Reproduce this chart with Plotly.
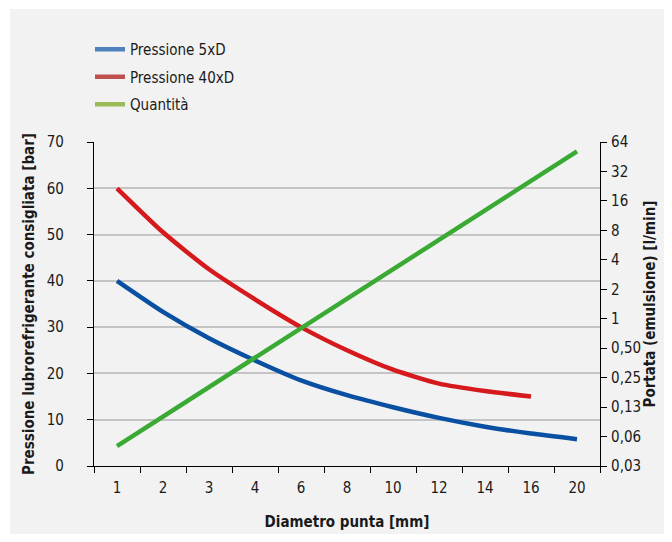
import plotly.graph_objects as go
import math

diametro = ["1", "2", "3", "4", "6", "8", "10", "12", "14", "16", "20"]
pressione_5xd = [40, 33.3, 27.6, 22.8, 18.5, 15.3, 12.7, 10.4, 8.5, 7.0, 5.8]
pressione_40xd = [60, 50.5, 42.5, 36, 30, 25, 20.8, 17.8, 16.2, 15.0, None]
quantita = [0.05, 0.1, 0.2, 0.4, 0.8, 1.6, 3.2, 6.4, 12.8, 25.6, 51.2]

y2_tickvals = [0.03125, 0.0625, 0.125, 0.25, 0.5, 1, 2, 4, 8, 16, 32, 64]
y2_ticktext = ["0,03", "0,06", "0,13", "0,25", "0,50", "1", "2", "4", "8", "16", "32", "64"]

series_names = ["Pressione 5xD", "Pressione 40xD", "Quantità"]
line_colors = ["#0a50a2", "#d5191c", "#3aaa35"]
legend_colors = ["#4f81bd", "#c0504d", "#9bbb59"]

FONT = "DejaVu Sans Condensed, Liberation Sans Narrow, Roboto, sans-serif"

fig = go.Figure()
fig.add_trace(go.Scatter(x=diametro, y=pressione_5xd, mode="lines", name=series_names[0],
                         line=dict(color=line_colors[0], width=4.5, shape="spline", smoothing=0.6),
                         showlegend=False, yaxis="y"))
fig.add_trace(go.Scatter(x=diametro, y=pressione_40xd, mode="lines", name=series_names[1],
                         line=dict(color=line_colors[1], width=4.5, shape="spline", smoothing=0.6),
                         showlegend=False, yaxis="y"))
fig.add_trace(go.Scatter(x=diametro, y=quantita, mode="lines", name=series_names[2],
                         line=dict(color=line_colors[2], width=4.5),
                         showlegend=False, yaxis="y2"))

for name, col in zip(series_names, legend_colors):
    fig.add_trace(go.Scatter(x=[None], y=[None], mode="lines", name=name,
                             legendgroup=name,
                             line=dict(color=col, width=4.5)))

# page has an 8px body margin; positions below are in page pixels
OFF = 8
W, H = 672 - 2 * OFF, 542 - 2 * OFF
L = 94 - OFF
T = 142 - OFF
R = W - (600 - OFF)
B = H - (466 - OFF)
pw, ph = W - L - R, H - T - B

def px_x(p):
    return (p - OFF - L) / pw

def px_y(p):
    return (H - B - (p - OFF)) / ph

fig.add_shape(type="rect", xref="paper", yref="paper",
              x0=px_x(10), x1=px_x(690), y0=px_y(560), y1=px_y(9),
              fillcolor="#f2f2f2", line=dict(width=0), layer="below")

fig.update_layout(
    width=W, height=H,
    margin=dict(l=L, r=R, t=T, b=B, autoexpand=False),
    paper_bgcolor="white",
    plot_bgcolor="rgba(0,0,0,0)",
    font=dict(family=FONT, size=15, color="#1a1a1a"),
    legend=dict(x=px_x(90), y=px_y(33), xanchor="left", yanchor="top",
                bgcolor="rgba(0,0,0,0)", font=dict(size=15, family=FONT),
                tracegroupgap=5, traceorder="grouped"),
    xaxis=dict(type="category", range=[-0.5, 10.5], tickson="boundaries",
               ticks="outside", ticklen=6, tickcolor="#000", showline=True,
               linecolor="#000", linewidth=1.2, showgrid=False, automargin=False,
               ticklabelstandoff=8,
               title=dict(text="<b>Diametro punta [mm]</b>", font=dict(size=15), standoff=20)),
    yaxis=dict(range=[0, 70], dtick=10, ticks="outside", ticklen=6, tickcolor="#000",
               showline=True, linecolor="#000", linewidth=1.2, automargin=False,
               showgrid=True, gridcolor="#c4c4c4", gridwidth=1.5, zeroline=False,
               ticklabelstandoff=20,
               title=dict(text="<b>Pressione lubrorefrigerante consigliata [bar]</b>",
                          font=dict(size=15), standoff=8)),
    yaxis2=dict(type="log", overlaying="y", side="right",
                range=[math.log10(y2_tickvals[0]), math.log10(y2_tickvals[-1])],
                tickvals=y2_tickvals, ticktext=y2_ticktext,
                ticks="outside", ticklen=6, tickcolor="#000", automargin=False,
                showline=True, linecolor="#000", linewidth=1.2, showgrid=False,
                zeroline=False, ticklabelstandoff=1,
                title=dict(text="<b>Portata (emulsione) [l/min]</b>",
                           font=dict(size=15), standoff=0)),
)

fig.write_html("out.html")
